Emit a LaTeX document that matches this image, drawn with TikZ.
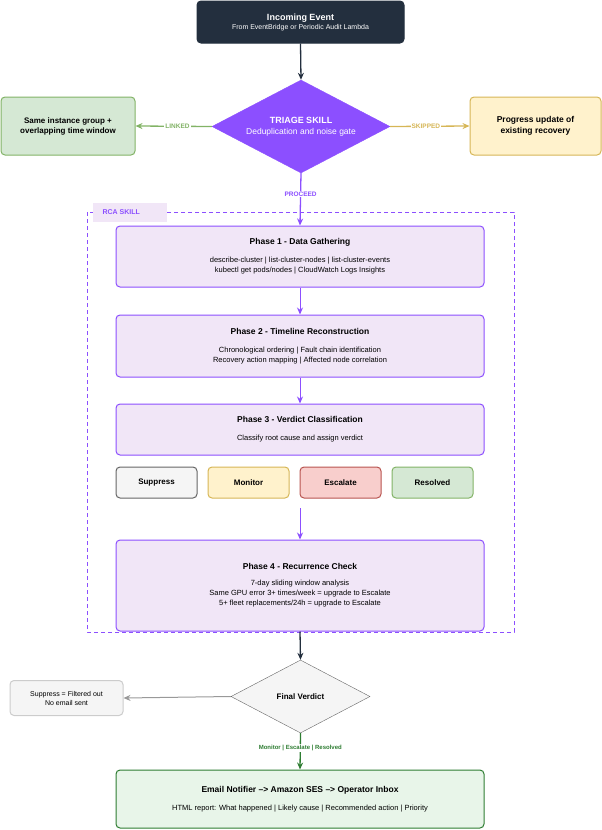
\documentclass[tikz,border=0pt]{standalone}
\usepackage{fontspec}
\setmainfont{Liberation Sans}
\usetikzlibrary{shapes.geometric,arrows.meta}
\definecolor{dark}{HTML}{232F3E}
\definecolor{purp}{HTML}{8C4FFF}
\definecolor{phfill}{HTML}{F1E6F7}
\definecolor{gfill}{HTML}{D5E8D4}\definecolor{gline}{HTML}{82B366}
\definecolor{yfill}{HTML}{FFF2CC}\definecolor{yline}{HTML}{D6B656}
\definecolor{rfill}{HTML}{F8CECC}\definecolor{rline}{HTML}{B85450}
\definecolor{sfill}{HTML}{F5F5F5}\definecolor{sline}{HTML}{666666}
\definecolor{efill}{HTML}{E8F5E9}\definecolor{eline}{HTML}{2E7D32}
\begin{document}
\begin{tikzpicture}[x=1pt,y=-1pt,
 box/.style={rounded corners=4pt,line width=1pt,inner sep=0pt,align=center},
 phase/.style={box,draw=purp,fill=phfill,minimum width=368pt,font=\fontsize{7.5}{10}\selectfont},
 vbox/.style={box,minimum width=81pt,minimum height=31pt,font=\fontsize{8}{10}\selectfont\bfseries},
 arr/.style={-{Stealth[length=7pt,width=6pt]},line width=1.3pt},
 lab/.style={font=\fontsize{6.5}{8}\selectfont\bfseries,fill=white,inner sep=1pt}]
\useasboundingbox (0,0) rectangle (602,830);
\node[box,fill=dark,draw=dark,text=white,minimum width=207pt,minimum height=42pt,font=\fontsize{7}{9}\selectfont] (in) at (300.5,22) {{\fontsize{9}{11}\selectfont\bfseries Incoming Event}\\From EventBridge or Periodic Audit Lambda};
\node[diamond,fill=purp,draw=purp,text=white,minimum width=178pt,minimum height=93pt,aspect=1.9,inner sep=0pt,align=center,font=\fontsize{8.5}{11}\selectfont] (tri) at (301,126.5) {{\fontsize{9}{11}\selectfont\bfseries TRIAGE SKILL}\\Deduplication and noise gate};
\node[box,fill=gfill,draw=gline,minimum width=134pt,minimum height=58pt,font=\fontsize{8}{10}\selectfont\bfseries] (lk) at (68,126) {Same instance group +\\overlapping time window};
\node[box,fill=yfill,draw=yline,minimum width=131pt,minimum height=58pt,font=\fontsize{8.5}{11}\selectfont\bfseries] (sk) at (535.5,126) {Progress update of\\existing recovery};
\draw[arr,gline] (tri.west) -- node[lab,text=gline,pos=0.45]{LINKED} (lk.east);
\draw[arr,yline] (tri.east) -- node[lab,text=yline,pos=0.45]{SKIPPED} (sk.west);
% RCA box
\draw[purp,dashed,line width=1pt,dash pattern=on 4pt off 3pt] (87,212) rectangle (514,632);
\node[fill=phfill,minimum width=74pt,minimum height=19pt,inner sep=0pt,text=purp,font=\fontsize{7}{9}\selectfont\bfseries,anchor=west] (rca) at (93,212.5) {\hspace*{-18pt}RCA SKILL};
\node[phase,minimum height=61pt] (p1) at (300,256.5) {{\fontsize{8.5}{10}\selectfont\bfseries Phase 1 - Data Gathering}\\[8pt]describe-cluster | list-cluster-nodes | list-cluster-events\\kubectl get pods/nodes | CloudWatch Logs Insights};
\node[phase,minimum height=62pt] (p2) at (300,346) {{\fontsize{8.5}{10}\selectfont\bfseries Phase 2 - Timeline Reconstruction}\\[8pt]Chronological ordering | Fault chain identification\\Recovery action mapping | Affected node correlation};
\node[phase,minimum height=51pt] (p3) at (300,429.5) {{\fontsize{8.5}{10}\selectfont\bfseries Phase 3 - Verdict Classification}\\[8pt]Classify root cause and assign verdict};
\node[vbox,fill=sfill,draw=sline] (v1) at (156.5,482.5) {Suppress};
\node[vbox,fill=yfill,draw=yline] (v2) at (248.5,482.5) {Monitor};
\node[vbox,fill=rfill,draw=rline] (v3) at (340.5,482.5) {Escalate};
\node[vbox,fill=gfill,draw=gline] (v4) at (432.5,482.5) {Resolved};
\node[phase,minimum height=91pt] (p4) at (300,585.5) {{\fontsize{8.5}{10}\selectfont\bfseries Phase 4 - Recurrence Check}\\[6pt]7-day sliding window analysis\\Same GPU error 3+ times/week = upgrade to Escalate\\5+ fleet replacements/24h = upgrade to Escalate};
\coordinate (c3) at (300,508);
\draw[arr,purp] (tri.south) -- node[lab,text=purp,pos=0.4]{PROCEED} (p1.north);
\draw[arr,purp,line width=1pt] (p1) -- (p2);
\draw[arr,purp,line width=1pt] (p2) -- (p3);
\draw[arr,purp,line width=1pt] (c3) -- (p4.north);
% final
\node[diamond,fill=sfill,draw=sline,minimum width=139pt,minimum height=73pt,aspect=1.9,inner sep=0pt,font=\fontsize{8}{10}\selectfont\bfseries] (fv) at (300.5,696.5) {Final Verdict};
\node[box,fill=sfill,draw=black!20,minimum width=113pt,minimum height=35pt,font=\fontsize{7}{9}\selectfont] (sup) at (66.5,698) {Suppress = Filtered out\\No email sent};
\node[box,fill=efill,draw=eline,minimum width=368pt,minimum height=58pt,font=\fontsize{7.5}{10}\selectfont] (em) at (300,799) {{\fontsize{8.5}{10}\selectfont\bfseries Email Notifier --> Amazon SES --> Operator Inbox}\\[8pt]HTML report: What happened | Likely cause | Recommended action | Priority};
\draw[arr,dark] (p4.south) -- (fv.north);
\draw[arr,black!40,line width=1pt] (fv.west) -- (sup.east);
\draw[arr,eline] (fv.south) -- node[lab,text=eline,pos=0.4,font=\fontsize{6}{8}\selectfont\bfseries]{Monitor | Escalate | Resolved} (em.north);
\draw[arr,dark] (in.south) -- (tri.north);
\end{tikzpicture}
\end{document}
